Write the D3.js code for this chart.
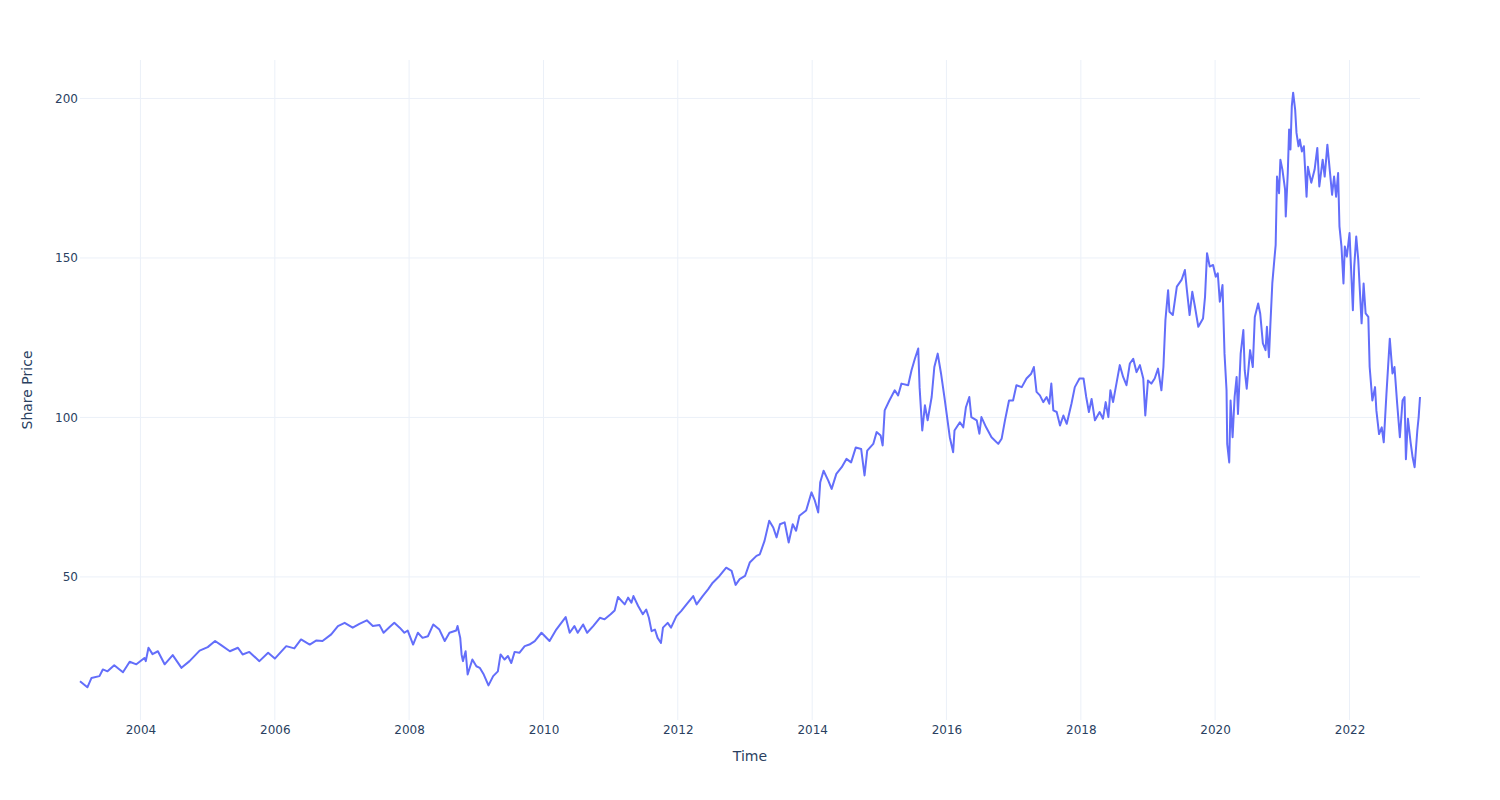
<!DOCTYPE html>
<html>
<head>
<meta charset="utf-8">
<script src="https://cdn.jsdelivr.net/npm/d3@7"></script>
<style>
  html, body { margin: 0; padding: 0; background: #fff; }
  svg { display: block; }
  text { font-family: "DejaVu Sans", sans-serif; fill: #2a3f5f; }
</style>
</head>
<body>
<svg id="chart" width="1500" height="800"></svg>
<script>
// Time expressed as decimal years
const times = [
2003.10,2003.21,2003.27,2003.39,2003.44,2003.51,2003.61,2003.74,2003.84,2003.94,
2004.06,2004.08,2004.12,2004.18,2004.26,2004.36,2004.48,2004.61,2004.73,2004.88,
2005.00,2005.11,2005.20,2005.33,2005.45,2005.52,2005.62,2005.77,2005.90,2006.00,
2006.17,2006.29,2006.39,2006.52,2006.62,2006.71,2006.84,2006.94,2007.04,2007.16,
2007.26,2007.37,2007.46,2007.56,2007.62,2007.71,2007.78,2007.86,2007.93,2007.98,
2008.06,2008.13,2008.20,2008.28,2008.36,2008.45,2008.53,2008.60,2008.70,2008.72,
2008.76,2008.78,2008.80,2008.84,2008.87,2008.94,2009.00,2009.05,2009.11,2009.18,
2009.25,2009.32,2009.36,2009.42,2009.47,2009.52,2009.57,2009.64,2009.72,2009.79,
2009.87,2009.97,2010.09,2010.19,2010.33,2010.39,2010.46,2010.51,2010.59,2010.65,
2010.74,2010.84,2010.91,2011.00,2011.06,2011.11,2011.21,2011.26,2011.31,2011.34,
2011.41,2011.48,2011.53,2011.57,2011.61,2011.66,2011.70,2011.75,2011.78,2011.85,
2011.90,2011.98,2012.05,2012.13,2012.23,2012.28,2012.37,2012.45,2012.52,2012.62,
2012.72,2012.80,2012.86,2012.92,2013.00,2013.07,2013.17,2013.22,2013.29,2013.36,
2013.42,2013.47,2013.52,2013.59,2013.65,2013.71,2013.76,2013.81,2013.91,2013.99,
2014.04,2014.09,2014.12,2014.17,2014.24,2014.29,2014.36,2014.44,2014.51,2014.58,
2014.65,2014.73,2014.78,2014.82,2014.91,2014.96,2015.02,2015.05,2015.08,2015.15,
2015.23,2015.28,2015.33,2015.43,2015.48,2015.53,2015.58,2015.60,2015.64,2015.68,
2015.72,2015.78,2015.82,2015.87,2015.92,2015.97,2016.05,2016.10,2016.12,2016.20,
2016.25,2016.29,2016.34,2016.37,2016.45,2016.49,2016.52,2016.59,2016.67,2016.77,
2016.82,2016.87,2016.93,2016.99,2017.04,2017.12,2017.19,2017.26,2017.30,2017.34,
2017.39,2017.44,2017.49,2017.53,2017.56,2017.59,2017.64,2017.69,2017.74,2017.79,
2017.86,2017.91,2017.98,2018.04,2018.08,2018.12,2018.16,2018.21,2018.28,2018.33,
2018.37,2018.41,2018.44,2018.48,2018.53,2018.58,2018.63,2018.68,2018.73,2018.78,
2018.83,2018.88,2018.93,2018.96,2019.00,2019.05,2019.10,2019.15,2019.20,2019.23,
2019.26,2019.30,2019.32,2019.37,2019.43,2019.50,2019.55,2019.58,2019.62,2019.66,
2019.70,2019.75,2019.82,2019.85,2019.88,2019.92,2019.97,2020.01,2020.04,2020.07,
2020.11,2020.14,2020.17,2020.18,2020.21,2020.23,2020.26,2020.29,2020.32,2020.34,
2020.38,2020.42,2020.44,2020.47,2020.52,2020.56,2020.59,2020.64,2020.67,2020.71,
2020.75,2020.77,2020.80,2020.82,2020.85,2020.88,2020.90,2020.92,2020.95,2020.97,
2021.00,2021.04,2021.05,2021.08,2021.10,2021.12,2021.14,2021.16,2021.19,2021.21,
2021.24,2021.26,2021.29,2021.32,2021.36,2021.38,2021.43,2021.48,2021.52,2021.55,
2021.60,2021.63,2021.67,2021.71,2021.74,2021.77,2021.80,2021.83,2021.85,2021.88,
2021.91,2021.93,2021.96,2022.00,2022.05,2022.07,2022.10,2022.13,2022.18,2022.21,
2022.24,2022.28,2022.30,2022.34,2022.38,2022.40,2022.44,2022.48,2022.51,2022.55,
2022.60,2022.64,2022.67,2022.71,2022.75,2022.79,2022.82,2022.84,2022.87,2022.91,
2022.94,2022.97,2023.01,2023.03,2023.05
];

const prices = [
17.3,15.4,18.3,18.9,21.0,20.4,22.3,20.1,23.4,22.6,
24.6,23.6,27.8,25.8,26.7,22.6,25.5,21.5,23.6,26.9,
28.0,29.9,28.6,26.7,27.8,25.7,26.5,23.6,26.2,24.4,
28.3,27.6,30.4,28.8,30.1,29.9,32.0,34.6,35.6,34.1,
35.3,36.4,34.6,34.9,32.5,34.3,35.6,34.1,32.5,33.2,
28.8,32.5,30.9,31.4,35.1,33.5,29.9,32.5,33.2,34.6,
30.9,25.7,23.6,26.7,19.4,24.1,22.0,21.5,19.4,16.0,
18.9,20.4,25.7,24.1,25.2,23.0,26.5,26.2,28.3,28.8,
29.9,32.5,29.9,33.5,37.4,32.5,34.6,32.5,35.1,32.5,
34.6,37.2,36.7,38.3,39.5,43.7,41.4,43.5,41.9,44.0,
40.9,38.3,39.8,37.2,33.0,33.5,30.9,29.3,34.1,35.6,
34.1,37.7,39.3,41.4,44.0,41.4,44.0,46.1,48.2,50.3,
52.9,51.9,47.5,49.3,50.3,54.5,56.6,57.1,61.3,67.6,
65.5,62.4,66.5,67.1,60.8,66.5,64.5,69.2,70.8,76.5,
73.9,70.2,79.7,83.3,80.2,77.6,82.3,84.4,87.0,85.9,
90.6,90.1,81.8,89.6,91.7,95.4,94.3,91.2,102.2,105.3,
108.5,106.9,110.6,110.1,114.8,118.4,121.6,109.5,95.9,103.8,
99.1,106.4,115.8,120.0,113.7,106.4,93.8,89.1,95.9,98.5,
96.9,103.2,106.4,100.1,99.1,94.9,100.1,96.9,93.8,91.7,
93.3,99.1,105.3,105.3,110.1,109.5,112.2,113.7,115.8,108.0,
106.9,104.8,106.4,104.3,110.6,102.2,101.7,97.5,100.6,98.0,
104.3,109.5,112.2,112.2,106.4,101.7,105.8,99.1,101.7,99.6,
104.8,100.1,108.5,104.8,110.6,116.4,112.7,110.1,116.9,118.4,
114.2,116.4,112.2,100.6,111.6,110.6,112.2,115.3,108.5,115.8,
130.5,139.9,133.1,132.1,141.0,143.1,146.2,139.9,132.1,139.4,
134.7,128.4,131.0,137.8,151.5,147.3,147.8,144.1,145.2,136.3,
141.5,120.0,108.5,91.7,85.9,105.3,93.8,106.4,112.7,101.1,
120.0,127.4,114.8,109.0,121.1,115.8,131.5,135.7,132.6,123.2,
121.1,128.4,118.9,128.4,142.0,149.4,154.1,175.5,170.3,180.8,
177.7,171.4,163.0,176.6,190.3,184.0,197.6,201.8,196.5,189.2,
185.0,187.1,183.4,185.0,169.2,178.6,173.6,177.7,184.5,172.4,
180.8,175.5,185.5,176.6,169.8,175.5,169.2,176.6,159.9,153.6,
142.0,153.6,150.4,157.8,133.6,147.3,156.7,149.4,129.5,142.0,
132.6,131.5,115.8,105.3,109.5,102.2,94.8,96.9,92.2,107.4,
124.7,113.8,115.8,104.3,93.8,105.3,106.4,86.9,99.6,92.2,
87.5,84.4,95.9,100.1,106.4
];

const yTicks = [50, 100, 150, 200];
const xTitle = "Time";
const yTitle = "Share Price";

function decYearToDate(d) {
  const y = Math.floor(d);
  const s = Date.UTC(y, 0, 1), e = Date.UTC(y + 1, 0, 1);
  return new Date(s + (d - y) * (e - s));
}

const data = times.map((t, i) => ({ date: decYearToDate(t), value: prices[i] }));

const W = 1500, H = 800;
const m = { left: 80, right: 80, top: 60, bottom: 80 };
const svg = d3.select("#chart");

const x = d3.scaleUtc()
  .domain(d3.extent(data, d => d.date))
  .range([m.left, W - m.right]);

const [vmin, vmax] = d3.extent(data, d => d.value);
const pad = (vmax - vmin) * 0.055;
const y = d3.scaleLinear()
  .domain([vmin - pad, vmax + pad])
  .range([H - m.bottom, m.top]);

const gridColor = "#EBF0F8";

// x grid
svg.append("g").selectAll("line")
  .data(x.ticks(d3.utcYear.every(2)))
  .join("line")
  .attr("x1", d => x(d)).attr("x2", d => x(d))
  .attr("y1", m.top).attr("y2", H - m.bottom)
  .attr("stroke", gridColor).attr("stroke-width", 1);

// y grid
svg.append("g").selectAll("line")
  .data(yTicks)
  .join("line")
  .attr("x1", m.left).attr("x2", W - m.right)
  .attr("y1", d => y(d)).attr("y2", d => y(d))
  .attr("stroke", gridColor).attr("stroke-width", 1);

// x axis
const xAxis = d3.axisBottom(x)
  .ticks(d3.utcYear.every(2))
  .tickFormat(d3.utcFormat("%Y"))
  .tickSize(0)
  .tickPadding(5);
const gx = svg.append("g")
  .attr("transform", `translate(0,${H - m.bottom})`)
  .call(xAxis);
gx.select(".domain").remove();
gx.selectAll("text").attr("font-size", 12).attr("fill", "#2a3f5f").style("font-family", '"DejaVu Sans", sans-serif');

// y axis
const yAxis = d3.axisLeft(y).tickValues(yTicks).tickSize(0).tickPadding(2);
const gy = svg.append("g")
  .attr("transform", `translate(${m.left},0)`)
  .call(yAxis);
gy.select(".domain").remove();
gy.selectAll("text").attr("font-size", 12).attr("fill", "#2a3f5f").style("font-family", '"DejaVu Sans", sans-serif');

// line
const line = d3.line()
  .x(d => x(d.date))
  .y(d => y(d.value));

svg.append("path")
  .datum(data)
  .attr("fill", "none")
  .attr("stroke", "#636efa")
  .attr("stroke-width", 2)
  .attr("stroke-linejoin", "round")
  .attr("d", line);

// titles
svg.append("text")
  .attr("x", (m.left + W - m.right) / 2)
  .attr("y", 761)
  .attr("text-anchor", "middle")
  .attr("font-size", 14)
  .text(xTitle);

svg.append("text")
  .attr("transform", `translate(32,${(m.top + H - m.bottom) / 2}) rotate(-90)`)
  .attr("text-anchor", "middle")
  .attr("font-size", 14)
  .text(yTitle);
</script>
</body>
</html>
